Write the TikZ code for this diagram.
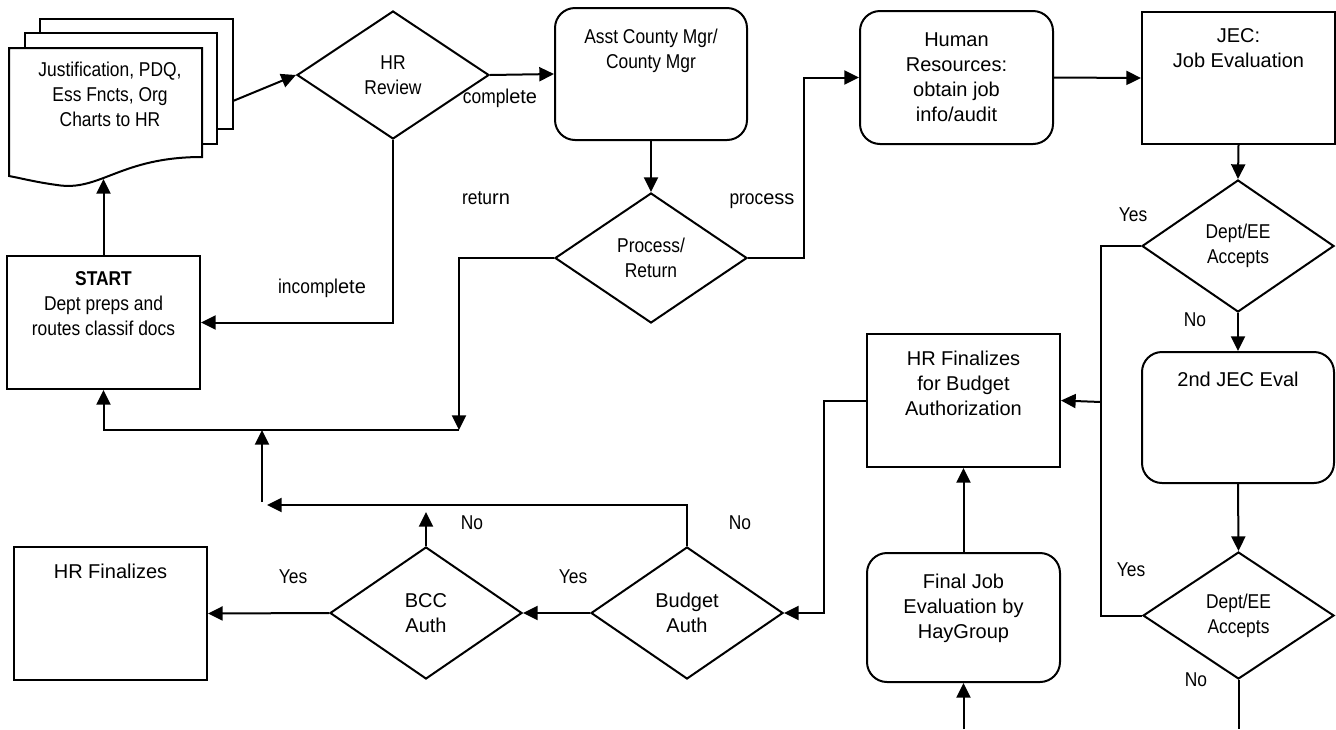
\documentclass[tikz,border=0pt]{standalone}
\usepackage{fontspec}
\setmainfont{Liberation Sans}
\newfontfamily\nf[FakeStretch=0.87]{Liberation Sans}
\usetikzlibrary{shapes.geometric,arrows.meta}
\begin{document}
\begin{tikzpicture}[x=0.75pt,y=-0.75pt,
  line width=1.5pt,
  every node/.style={inner sep=0pt},
  txt/.style={align=center, font=\fontsize{15pt}{18.75pt}\selectfont},
  ntxt/.style={align=center, font=\nf\fontsize{15pt}{18.75pt}\selectfont},
  sq/.style={draw, rectangle, line width=1.5pt},
  rnd/.style={sq, rounded corners=15pt},
  dia/.style={draw, diamond, line width=1.5pt},
  arr/.style={-{Triangle[length=11pt,width=10.5pt]}},
  page/.style={draw, fill=white, line width=1.5pt},
]
\fill[white] (0,0) rectangle (1336,729);
\useasboundingbox (0,0) rectangle (1336,729);

% stacked documents
\draw[page] (40,19) rectangle (233,129);
\draw[page] (25,33) rectangle (217,144);
\draw[page] (9,48) -- (202,48) -- (202,157) .. controls (120,157) and (100,192) .. (57,185) .. controls (35,182) and (20,178) .. (9,176) -- cycle;
\node[ntxt] (docs) at (110,94) {Justification, PDQ,\\Ess Fncts, Org\\Charts to HR};
\coordinate (docsR) at (233,101);
\coordinate (docsB) at (103.5,179);

% diamonds
\node[dia, ntxt, minimum width=144pt, minimum height=96pt] (hrr) at (393,75) {HR\\Review};
\node[dia, ntxt, minimum width=144pt, minimum height=97.5pt] (pr) at (651,258) {Process/\\Return};
\node[dia, ntxt, minimum width=144pt, minimum height=99pt] (d1) at (1238,246) {Dept/EE\\Accepts};
\node[dia, ntxt, minimum width=143.25pt, minimum height=95.25pt] (d2) at (1238.5,615.5) {Dept/EE\\Accepts};
\node[dia, txt, minimum width=144pt, minimum height=99pt] (bcc) at (426,613) {BCC\\Auth};
\node[dia, txt, minimum width=144pt, minimum height=99pt] (bud) at (687,613) {Budget\\Auth};

% boxes
\node[rnd, minimum width=144pt, minimum height=99pt,
  label={[ntxt,anchor=north,yshift=-15.75pt]north:{Asst County Mgr/\\County Mgr}}] (asst) at (651,74) {};
\node[rnd, txt, minimum width=144.75pt, minimum height=99.75pt] (hum) at (956.5,77.5) {Human\\Resources:\\obtain job\\info/audit};
\node[sq, minimum width=144.75pt, minimum height=99pt,
  label={[txt,anchor=north,yshift=-12.75pt]north:{JEC:\\Job Evaluation}}] (jec) at (1238.5,78) {};
\node[sq, minimum width=144.75pt, minimum height=99.75pt,
  label={[ntxt,anchor=north,yshift=-12pt]north:{\textbf{START}\\Dept preps and\\routes classif docs}}] (start) at (103.5,322.5) {};
\node[sq, minimum width=144.75pt, minimum height=99.75pt,
  label={[txt,anchor=north,yshift=-12.75pt]north:{HR Finalizes\\for Budget\\Authorization}}] (hrfb) at (963.5,400.5) {};
\node[rnd, minimum width=144pt, minimum height=98.25pt,
  label={[txt,anchor=north,yshift=-15pt]north:{2nd JEC Eval}}] (jec2) at (1238,417.5) {};
\node[rnd, minimum width=144.75pt, minimum height=96.75pt,
  label={[txt,anchor=north,yshift=-15.75pt]north:{Final Job\\Evaluation by\\HayGroup}}] (final) at (963.5,617.5) {};
\node[sq, minimum width=144.75pt, minimum height=99.75pt,
  label={[txt,anchor=north,yshift=-12.75pt]north:{HR Finalizes}}] (hrf) at (110.5,613.5) {};

% free ends and junctions
\coordinate (jx) at (1101,402);
\coordinate (botR) at (1238.5,729);
\coordinate (botF) at (963.5,729);
\coordinate (bccUp) at (426,512);
\coordinate (budL) at (267,505);
\coordinate (vb) at (262,502);
\coordinate (vt) at (262,430);
\coordinate (lc) at (459,430);

% connectors
\draw[arr] (docsR) -- (hrr.west);
\draw[arr] (hrr.east) -- (asst.west);
\draw[arr] (hrr.south) |- (start.east);
\draw[arr] (start.north) -- (docsB);
\draw[arr] (asst.south) -- (pr.north);
\draw[arr] (pr.east) -- ++(56,0) |- (hum.west);
\draw[arr] (hum.east) -- (jec.west);
\draw[arr] (jec.south) -- (d1.north);
\draw[arr] (d1.south) -- (jec2.north);
\draw[arr] (jec2.south) -- (d2.north);
\draw (d1.west) -| (jx) |- (d2.west);
\draw[arr] (jx) -- (hrfb.east);
\draw (d2.south) -- (botR);
\draw[arr] (botF) -- (final.south);
\draw[arr] (final.north) -- (hrfb.south);
\draw[arr] (hrfb.west) -- ++(-42,0) |- (bud.east);
\draw[arr] (bud.west) -- (bcc.east);
\draw[arr] (bcc.west) -- (hrf.east);
\draw[arr] (bcc.north) -- (bccUp);
\draw[arr] (bud.north) |- (budL);
\draw[arr] (vb) -- (vt);
\draw[arr] (pr.west) -| (lc);
\draw[arr] (lc) -| (start.south);

% connector labels
\node[txt] (tcomplete) at (500,98) {{\nf compl}ete};
\node[txt] (treturn) at (486,198) {{\nf retu}rn};
\node[txt] (tprocess) at (762,201) {{\nf proc}ess};
\node[txt] (tincomplete) at (322,288) {{\nf incompl}ete};
\node[ntxt] (y1) at (1133,215) {Yes};
\node[ntxt] (n1) at (1195,320) {No};
\node[ntxt] (y2) at (1131,570) {Yes};
\node[ntxt] (n2) at (1196,680) {No};
\node[ntxt] (n3) at (472,523) {No};
\node[ntxt] (n4) at (740,523) {No};
\node[ntxt] (y3) at (293,577) {Yes};
\node[ntxt] (y4) at (573,577) {Yes};
\end{tikzpicture}
\end{document}
